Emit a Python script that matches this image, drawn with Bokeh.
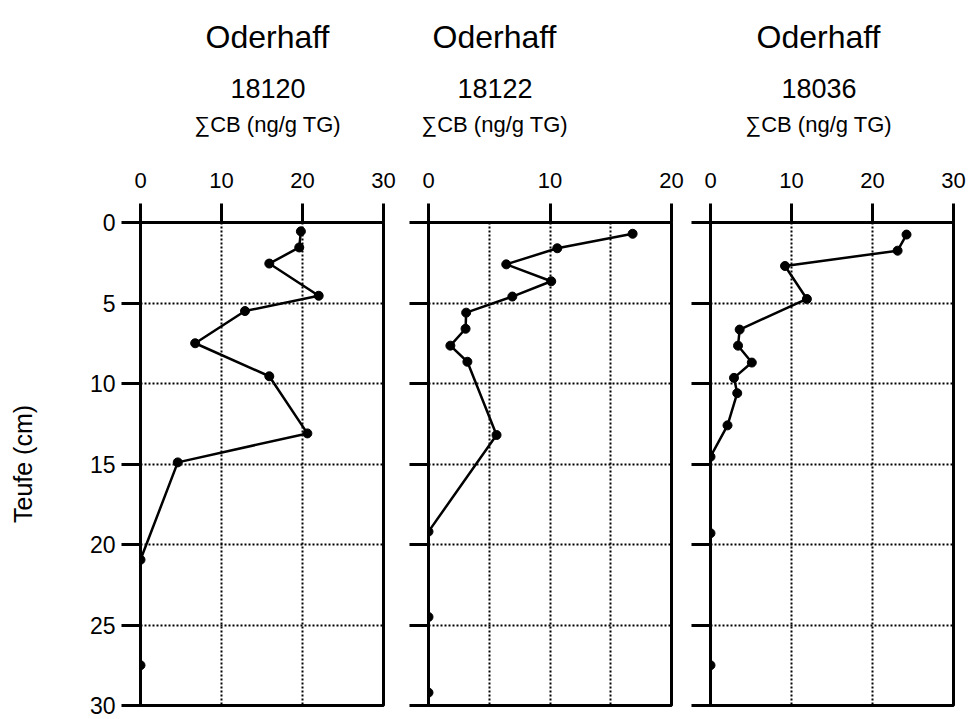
from bokeh.plotting import figure
from bokeh.layouts import row
from bokeh.models import Range1d, FixedTicker, Title, LinearAxis
from bokeh.embed import file_html
from bokeh.resources import INLINE

# ---- data ----
site_names = ["Oderhaff", "Oderhaff", "Oderhaff"]
core_ids = ["18120", "18122", "18036"]
x_label = "\u2211CB (ng/g TG)"
y_label = "Teufe (cm)"

depth_18120 = [0.55, 1.55, 2.55, 4.55, 5.5, 7.5, 9.55, 13.1, 14.9, 20.95, 27.5]
cb_18120 = [19.8, 19.6, 15.9, 22.0, 12.9, 6.75, 15.9, 20.6, 4.6, 0.0, 0.0]

depth_18122 = [0.7, 1.6, 2.6, 3.65, 4.6, 5.6, 6.6, 7.65, 8.65, 13.2, 19.2, 24.5, 29.2]
cb_18122 = [16.8, 10.6, 6.4, 10.1, 6.9, 3.1, 3.05, 1.8, 3.2, 5.6, 0.0, 0.0, 0.0]

depth_18036 = [0.75, 1.75, 2.7, 4.75, 6.65, 7.65, 8.7, 9.65, 10.6, 12.6, 14.55, 19.3, 27.5]
cb_18036 = [24.2, 23.1, 9.2, 11.9, 3.6, 3.4, 5.1, 2.9, 3.3, 2.1, 0.0, 0.0, 0.0]

x_max = [30, 20, 30]
x_ticks = [[0, 10, 20, 30], [0, 10, 20], [0, 10, 20, 30]]
x_grid = [[10, 20], [5, 10, 15], [10, 20]]
y_ticks = [0, 5, 10, 15, 20, 25, 30]
y_grid = [5, 10, 15, 20, 25]

depths = [depth_18120, depth_18122, depth_18036]
values = [cb_18120, cb_18122, cb_18036]

FONT = "Liberation Sans"

widths = [405, 285, 278]
lefts = [140, 23, 20]
rights = [22, 19, 15]
# left offsets of the three header lines (site, core id, quantity) from each frame's left edge
off_site = [65, 4, 46]
off_core = [90, 29, 71]
off_qty = [54, -7, 35]

figs = []
for i in range(3):
    p = figure(width=widths[i], height=719, output_backend="svg", toolbar_location=None,
               x_axis_location="above", x_range=Range1d(0, x_max[i]), y_range=Range1d(30, 0),
               min_border_left=lefts[i], min_border_right=rights[i],
               min_border_top=222, min_border_bottom=14)
    p.background_fill_color = "white"
    p.border_fill_color = "white"
    p.outline_line_color = "black"
    p.outline_line_width = 3
    p.outline_line_alpha = 1.0

    # blank spacer axis (white tick on white, no labels) between tick labels and header lines
    spacer = LinearAxis(ticker=FixedTicker(ticks=[x_max[i] / 2]), major_tick_out=31, major_tick_in=0,
                        axis_line_color=None, major_tick_line_color="white",
                        minor_tick_line_color=None, major_label_standoff=0,
                        major_label_text_color=None, major_label_text_font_size="1px")
    p.add_layout(spacer, "above")

    # headers (nearest to the frame first)
    p.add_layout(Title(text=x_label, align="left", offset=off_qty[i],
                       text_font=FONT, text_font_size="22px", text_font_style="normal",
                       text_color="black", standoff=4), "above")
    p.add_layout(Title(text=core_ids[i], align="left", offset=off_core[i],
                       text_font=FONT, text_font_size="27px", text_font_style="normal",
                       text_color="black", standoff=19), "above")
    p.title.text = site_names[i]
    p.title.align = "left"
    p.title.offset = off_site[i]
    p.title.text_font = FONT
    p.title.text_font_size = "32px"
    p.title.text_font_style = "normal"
    p.title.text_color = "black"
    p.title.standoff = 26

    xa = p.xaxis[0]
    xa.ticker = FixedTicker(ticks=x_ticks[i])
    xa.minor_tick_line_color = None
    xa.major_tick_out = 19
    xa.major_tick_in = 0
    xa.major_tick_line_width = 3
    xa.axis_line_width = 3
    xa.major_label_standoff = 16
    xa.major_label_text_font = FONT
    xa.major_label_text_font_size = "22px"
    xa.major_label_text_color = "black"

    ya = p.yaxis[0]
    ya.ticker = FixedTicker(ticks=y_ticks)
    ya.minor_tick_line_color = None
    ya.major_tick_out = 19
    ya.major_tick_in = 0
    ya.major_tick_line_width = 3
    ya.axis_line_width = 3
    if i == 0:
        ya.major_label_standoff = 6
        ya.major_label_text_font = FONT
        ya.major_label_text_font_size = "23px"
        ya.major_label_text_color = "black"
        ya.axis_label = y_label
        ya.axis_label_text_font = FONT
        ya.axis_label_text_font_size = "25px"
        ya.axis_label_text_font_style = "normal"
        ya.axis_label_text_color = "black"
        ya.axis_label_standoff = 50
    else:
        ya.major_label_text_color = None
        ya.major_label_text_font_size = "0px"

    p.xgrid.ticker = FixedTicker(ticks=x_grid[i])
    p.ygrid.ticker = FixedTicker(ticks=y_grid)
    for g in (p.xgrid[0], p.ygrid[0]):
        g.grid_line_color = "black"
        g.grid_line_width = 2
        g.grid_line_dash = "2 2"
        g.grid_line_alpha = 1.0

    p.line(values[i], depths[i], line_color="black", line_width=2.5)
    p.scatter(values[i], depths[i], size=9, fill_color="black", line_color="black")
    figs.append(p)

layout = row(*figs, spacing=0)
open("out.html", "w").write(file_html(layout, INLINE))
